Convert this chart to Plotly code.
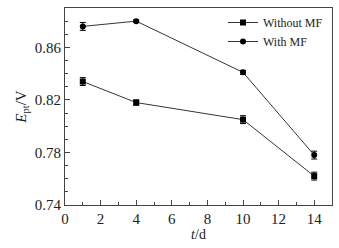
import plotly.graph_objects as go

days = [1, 4, 10, 14]
without_mf = [0.834, 0.818, 0.805, 0.762]
without_err = [0.003, 0.002, 0.003, 0.003]
with_mf = [0.876, 0.880, 0.841, 0.778]
with_err = [0.003, 0.001, 0.0015, 0.003]

font = "Liberation Serif"

fig = go.Figure()
fig.add_trace(go.Scatter(
    x=days, y=without_mf, name="Without MF", mode="lines+markers",
    line=dict(color="black", width=0.8),
    marker=dict(symbol="square", size=6, color="black"),
    error_y=dict(type="data", array=without_err, color="black", thickness=1, width=3),
))
fig.add_trace(go.Scatter(
    x=days, y=with_mf, name="With MF", mode="lines+markers",
    line=dict(color="black", width=0.8),
    marker=dict(symbol="circle", size=6, color="black"),
    error_y=dict(type="data", array=with_err, color="black", thickness=1, width=3),
))

axis_common = dict(
    showgrid=False, zeroline=False, showline=True, linecolor="#444", linewidth=1,
    mirror=True, ticks="inside", ticklen=5, tickcolor="#444", automargin=False,
    tickfont=dict(family=font, size=15, color="#222"),
)

fig.update_layout(
    width=339, height=248,
    margin=dict(l=65, r=7, t=8, b=43),
    paper_bgcolor="white", plot_bgcolor="white",
    font=dict(family=font, color="#222"),
    showlegend=True,
    legend=dict(x=0.985, y=1.0, xanchor="right", yanchor="top",
                font=dict(family=font, size=12, color="#222"),
                bgcolor="rgba(0,0,0,0)", tracegroupgap=0, itemwidth=30),
    xaxis=dict(range=[0, 15], tickvals=[0, 2, 4, 6, 8, 10, 12, 14],
               minor=dict(dtick=1, ticks="inside", ticklen=3, tickcolor="#444"),
               title=dict(text="<i>t</i>/d", font=dict(family=font, size=14), standoff=0),
               **axis_common),
    yaxis=dict(range=[0.74, 0.89], tickvals=[0.74, 0.78, 0.82, 0.86],
               ticktext=["0.74", "0.78", "0.82", "0.86"],
               minor=dict(dtick=0.01, tick0=0.74, ticks="inside", ticklen=3, tickcolor="#444"),
               title=dict(text="<i>E</i><sub>pt</sub>/V", font=dict(family=font, size=15), standoff=4),
               **axis_common),
)

fig.write_html("out.html", config={"displayModeBar": False},
               post_script="document.body.style.margin='0';")
